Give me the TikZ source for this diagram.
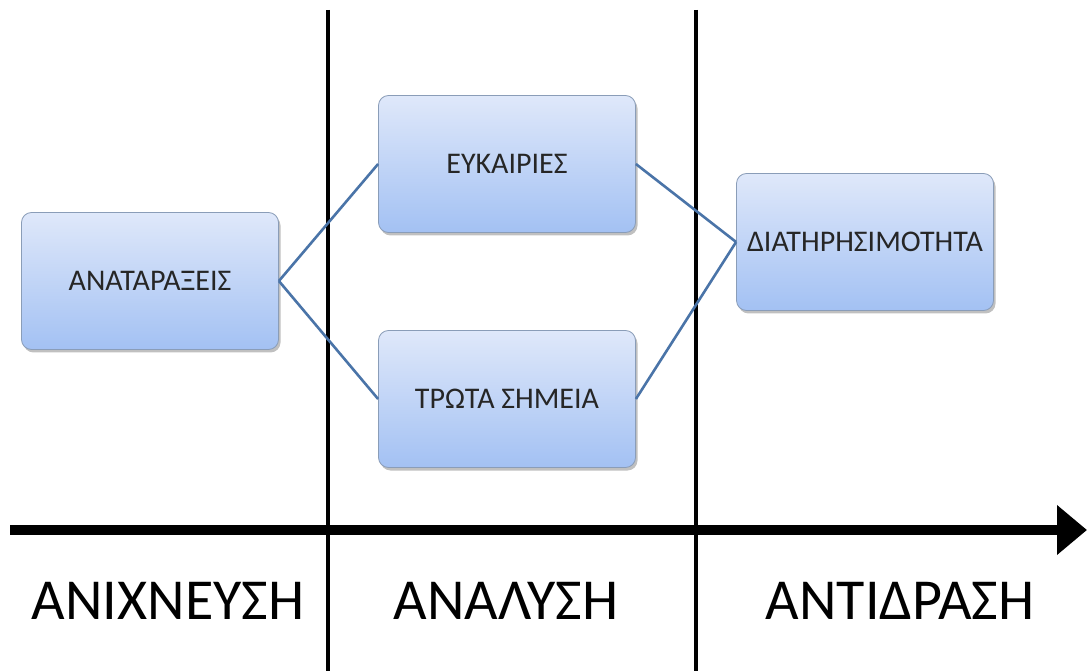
\documentclass[tikz,border=0pt]{standalone}
\usepackage{fontspec}
\setmainfont{Carlito}
\usetikzlibrary{shadows,arrows.meta}
\definecolor{linkblue}{HTML}{4A74A8}
\definecolor{boxtop}{HTML}{DFE8FA}
\definecolor{boxbot}{HTML}{A3C1F3}
\definecolor{boxedge}{HTML}{8A9DB8}
\begin{document}
\begin{tikzpicture}[x=1pt,y=-1pt,
  stagebox/.style={draw=boxedge, line width=0.8pt, rounded corners=10pt,
    top color=boxtop, bottom color=boxbot,
    minimum width=257pt, minimum height=137pt, inner sep=0pt,
    font=\fontsize{30}{34}\selectfont, text=black!85,
    drop shadow={shadow xshift=2pt, shadow yshift=-3pt, opacity=0.35, fill=black!70}},
  link/.style={draw=linkblue, line width=2.6pt},
  phase/.style={font=\fontsize{58}{66}\selectfont, inner sep=0pt},
  divider/.style={line width=4pt, black}]
\useasboundingbox (0,0) rectangle (1088,671);
\fill[white] (0,0) rectangle (1088,671);

% phase dividers
\coordinate (d1t) at (328,10);  \coordinate (d1b) at (328,671);
\coordinate (d2t) at (696,10);  \coordinate (d2b) at (696,671);
\draw[divider] (d1t) -- (d1b);
\draw[divider] (d2t) -- (d2b);

% time axis
\coordinate (axs) at (10,530);
\coordinate (axe) at (1087,530);
\draw[line width=10pt, -{Triangle[length=30pt,width=48pt]}] (axs) -- (axe);

% stage boxes
\node[stagebox] (anat) at (150,281) {ΑΝΑΤΑΡΑΞΕΙΣ};
\node[stagebox] (euk)  at (507,164) {ΕΥΚΑΙΡΙΕΣ};
\node[stagebox] (trot) at (507,399) {ΤΡΩΤΑ ΣΗΜΕΙΑ};
\node[stagebox] (diat) at (865,242) {ΔΙΑΤΗΡΗΣΙΜΟΤΗΤΑ};

% connectors
\draw[link] (anat.east) -- (euk.west);
\draw[link] (anat.east) -- (trot.west);
\draw[link] (euk.east) -- (diat.west);
\draw[link] (trot.east) -- (diat.west);

% phase labels
\node[phase] (p1) at (168,601) {ΑΝΙΧΝΕΥΣΗ};
\node[phase] (p2) at (506,601) {ΑΝΑΛΥΣΗ};
\node[phase] (p3) at (900,601) {ΑΝΤΙΔΡΑΣΗ};
\end{tikzpicture}
\end{document}
